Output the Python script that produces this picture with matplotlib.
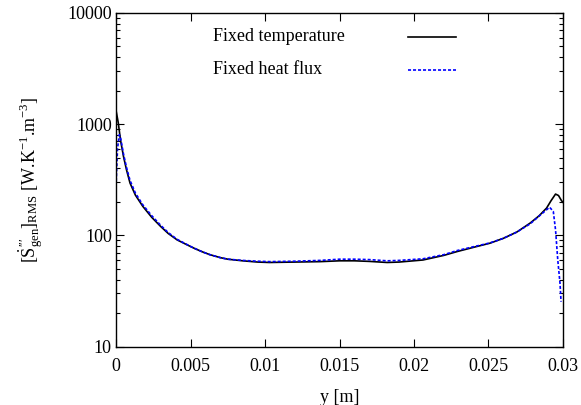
import numpy as np
import matplotlib
matplotlib.use('Agg')
import matplotlib.pyplot as plt
from matplotlib.lines import Line2D

plt.rcParams['font.family'] = ['Liberation Serif', 'DejaVu Serif']
plt.rcParams['mathtext.fontset'] = 'custom'
plt.rcParams['mathtext.rm'] = 'Liberation Serif'
plt.rcParams['mathtext.it'] = 'Liberation Serif:italic'
plt.rcParams['lines.scale_dashes'] = False

## data
y_temp = [0, 0.00015, 0.0003, 0.0005, 0.0007, 0.00094, 0.0013, 0.0018, 0.0024, 0.003,
          0.0035, 0.0041, 0.0047, 0.0052, 0.0058, 0.0063, 0.007, 0.0075, 0.0085, 0.0095,
          0.0103, 0.012, 0.0137, 0.015, 0.016, 0.017, 0.0182, 0.019, 0.0206, 0.022,
          0.0229, 0.024, 0.0251, 0.026, 0.0269, 0.0278, 0.0284, 0.0289, 0.0292, 0.0295,
          0.0297, 0.0299, 0.03]
s_temp = [1330, 1030, 720, 513, 390, 295, 230, 182, 145, 120,
          104, 91, 83, 77, 71, 67, 63, 61, 59, 57.5,
          57, 57.5, 58, 59, 59, 58.3, 57, 57.5, 60, 66,
          71.5, 78, 85, 94, 107, 129, 150, 176, 205, 235,
          228, 205, 198]

y_flux = [0, 0.0001, 0.00022, 0.0003, 0.0005, 0.0007, 0.00094, 0.0013, 0.0018, 0.0024,
          0.003, 0.0035, 0.0041, 0.0047, 0.0052, 0.0058, 0.0063, 0.007, 0.0075, 0.0085,
          0.0095, 0.0103, 0.012, 0.0137, 0.015, 0.016, 0.017, 0.0182, 0.019, 0.0206,
          0.022, 0.0229, 0.024, 0.0251, 0.026, 0.0269, 0.0278, 0.0285, 0.0291, 0.02935,
          0.0295, 0.02965, 0.0298, 0.02987]
s_flux = [276, 600, 804, 760, 540, 410, 312, 240, 188, 150,
          123, 106, 92, 83.5, 77, 71, 67, 63, 61, 59.5,
          58.5, 58, 58.5, 59.5, 61, 61, 60.5, 59, 59.5, 61.5,
          67, 73, 79, 85.5, 94, 107, 127, 153, 179, 164,
          112, 60, 37, 25.3]

labels = ['Fixed temperature', 'Fixed heat flux']

fig = plt.figure(figsize=(5.81, 4.05), dpi=100)
ax = fig.add_axes([0.1997, 0.1444, 0.7693, 0.8236])

ax.plot(y_temp, s_temp, '-', color='black', lw=1.2)
ax.plot(y_flux, s_flux, '--', color='#0000ff', lw=1.2, dashes=(2.2, 1.4))

ax.set_yscale('log')
ax.set_xlim(0, 0.03)
ax.set_ylim(10, 10000)
ax.set_xticks([0, 0.005, 0.01, 0.015, 0.02, 0.025, 0.03])
ax.set_xticklabels(['0', '0.005', '0.01', '0.015', '0.02', '0.025', '0.03'])
ax.set_yticks([10, 100, 1000, 10000])
ax.set_yticklabels(['10', '100', '1000', '10000'])

fs = 13
ax.tick_params(which='both', direction='in', top=True, right=True, labelsize=fs)
ax.tick_params(which='major', length=6, width=0.8)
ax.tick_params(which='minor', length=3, width=0.8)
ax.tick_params(axis='x', pad=8.5)
ax.tick_params(axis='y', pad=3)
for s in ax.spines.values():
    s.set_linewidth(1.0)

ax.set_xlabel('y [m]', fontsize=fs, labelpad=10)
ax.set_ylabel(r'$[\dot{\mathrm{S}}^{\prime\prime\prime}_{\rm gen}]_{\rm RMS}$ [W.K$^{-1}$.m$^{-3}$]',
              fontsize=fs, labelpad=16)

## gnuplot style key: text left, sample right
for i, (lab, st) in enumerate(zip(labels, [dict(ls='-', color='black'),
                                          dict(ls='--', color='#0000ff', dashes=(2.2, 1.4))])):
    yy = 0.929 - i * 0.099
    ax.text(0.217, yy, lab, transform=ax.transAxes, fontsize=fs, va='center', ha='left')
    ax.add_line(Line2D([0.653, 0.761], [yy, yy], transform=ax.transAxes, lw=1.2, **st))

plt.savefig('out.png', dpi=100)
